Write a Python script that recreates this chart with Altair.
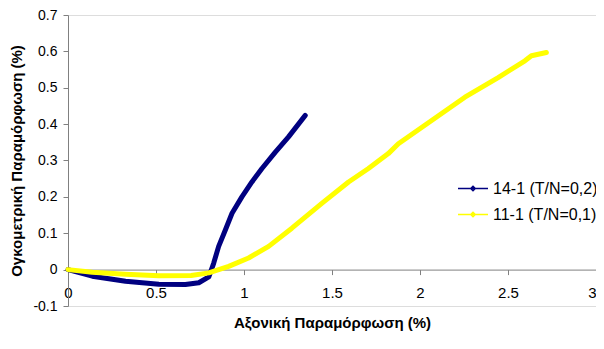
import altair as alt
import pandas as pd

# Series 14-1 (T/N=0,2)
s1_x = [0.0, 0.138, 0.327, 0.516, 0.667, 0.743, 0.800, 0.815, 0.828, 0.856, 0.894, 0.932, 0.988, 1.045, 1.102, 1.178, 1.253, 1.348]
s1_y = [0.0, -0.018, -0.032, -0.040, -0.041, -0.036, -0.020, 0.000, 0.018, 0.064, 0.109, 0.155, 0.200, 0.241, 0.278, 0.323, 0.365, 0.424]

# Series 11-1 (T/N=0,1)
s2_x = [0.0, 0.138, 0.327, 0.516, 0.700, 0.800, 0.913, 1.026, 1.140, 1.272, 1.442, 1.594, 1.707, 1.820, 1.877, 2.066, 2.255, 2.444, 2.596, 2.633, 2.718]
s2_y = [0.0, -0.007, -0.013, -0.017, -0.016, -0.009, 0.009, 0.032, 0.064, 0.114, 0.182, 0.241, 0.278, 0.319, 0.346, 0.410, 0.474, 0.528, 0.574, 0.588, 0.597]

names = ["14-1 (T/N=0,2)", "11-1 (T/N=0,1)"]
colors = ["#000080", "#FFFF00"]

x_ticks = [0, 0.5, 1, 1.5, 2, 2.5, 3]
y_ticks = [-0.1, 0, 0.1, 0.2, 0.3, 0.4, 0.5, 0.6, 0.7]

rows = []
for i, (x, y) in enumerate(zip(s1_x, s1_y)):
    rows.append({"x": x, "y": y, "s": names[0], "o": i})
for i, (x, y) in enumerate(zip(s2_x, s2_y)):
    rows.append({"x": x, "y": y, "s": names[1], "o": i})
df = pd.DataFrame(rows)

FONT = "Liberation Sans"
LBL = "replace(format(datum.value,'~g'),'\u2212','-')"

chart = alt.Chart(df).mark_line(strokeWidth=5, strokeCap="round", strokeJoin="round").encode(
    x=alt.X("x:Q", scale=alt.Scale(domain=[0, 3], nice=False),
            axis=alt.Axis(values=x_ticks, grid=False, labelFlush=False,
                          labelAlign={"condition": {"test": "datum.value >= 3", "value": "right"}, "value": "center"},
                          offset=-36.4, domainColor="#808080", tickColor="#808080",
                          tickSize=5, labelPadding=11, labelFontSize=15,
                          labelColor="#000000", labelFont=FONT, labelExpr=LBL,
                          title="Αξονική Παραμόρφωση (%)", titleFont=FONT,
                          titleFontSize=15, titleFontWeight="bold",
                          titleColor="#000000", titlePadding=15)),
    y=alt.Y("y:Q", scale=alt.Scale(domain=[-0.1, 0.7], nice=False),
            axis=alt.Axis(values=y_ticks, grid=False, labelFlush=False,
                          domainColor="#808080", tickColor="#808080", tickSize=5,
                          labelPadding=6, labelFontSize=14, labelColor="#000000",
                          labelFont=FONT, labelExpr=LBL,
                          title="Ογκομετρική Παραμόρφωση (%)", titleFont=FONT,
                          titleFontSize=15, titleFontWeight="bold",
                          titleColor="#000000", titlePadding=8)),
    color=alt.Color("s:N", scale=alt.Scale(domain=names, range=colors),
                    legend=alt.Legend(title=None, orient="none", legendX=389, legendY=165,
                                      symbolType="M-1,0L3,0M1,-0.3L1.3,0L1,0.3L0.7,0Z",
                                      symbolStrokeWidth=1.5,
                                      symbolSize=225, labelFontSize=16, labelFont=FONT,
                                      labelColor="#000000", rowPadding=9, labelOffset=19)),
    order="o:Q",
).properties(
    width=528, height=291,
    autosize=alt.AutoSizeParams(type="none"),
    padding={"left": 60, "top": 7, "right": 0, "bottom": 35},
).configure_view(stroke=None).configure(background="white")

chart.save("out.html", embed_options={"renderer": "svg", "actions": False})
